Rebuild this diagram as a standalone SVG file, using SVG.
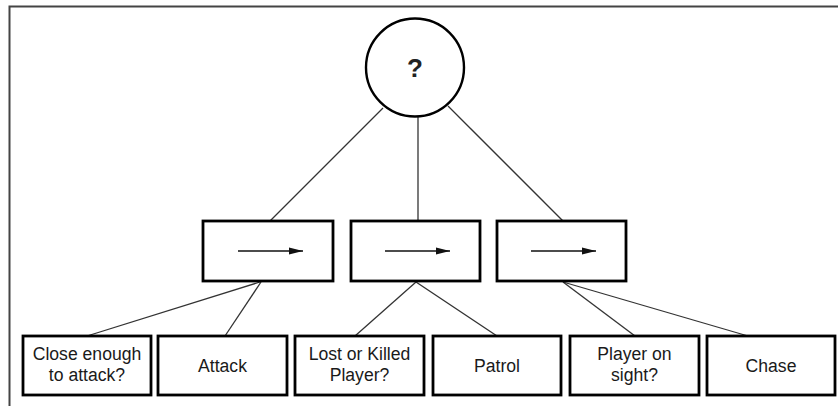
<svg xmlns="http://www.w3.org/2000/svg" width="838" height="406" viewBox="0 0 838 406">
<style>
.frame{stroke:#444;stroke-width:2;fill:none}
.box{fill:#fff;stroke:#000;stroke-width:2.8}
.conn{stroke:#333;stroke-width:1.3;fill:none}
.arr{stroke:#111;stroke-width:1.5}
.lbl{font-family:"Liberation Sans",Arial,sans-serif;font-size:17.6px;fill:#1a1a1a;text-anchor:middle}
.q{font-family:"Liberation Sans",Arial,sans-serif;font-size:26px;font-weight:bold;fill:#222;text-anchor:middle}
</style>
<defs>
<marker id="ah" markerWidth="14" markerHeight="8" refX="14" refY="4" orient="auto" markerUnits="userSpaceOnUse">
<polygon points="0,0.5 14,4 0,7.5" fill="#111"/>
</marker>
</defs>
<rect width="838" height="406" fill="#fff"/>
<path class="frame" d="M9.5,406 V6.5 H838"/>
<g id="connectors">
<line class="conn" x1="383" y1="108" x2="270" y2="221"/>
<line class="conn" x1="418" y1="117" x2="418" y2="221"/>
<line class="conn" x1="448" y1="106" x2="563" y2="221"/>
<line class="conn" x1="260" y1="282" x2="87" y2="336"/>
<line class="conn" x1="261" y1="282" x2="225" y2="336"/>
<line class="conn" x1="416" y1="282" x2="355" y2="336"/>
<line class="conn" x1="416" y1="282" x2="497" y2="336"/>
<line class="conn" x1="563" y1="282" x2="635" y2="336"/>
<line class="conn" x1="563" y1="282" x2="748" y2="336"/>
</g>
<g id="selector">
<circle cx="415" cy="67.5" r="49" fill="#fff" stroke="#000" stroke-width="2.4"/>
<text class="q" x="415" y="77">?</text>
</g>
<g id="seq1">
<rect class="box" x="203" y="221" width="130" height="60"/>
<line class="arr" x1="238" y1="251" x2="303" y2="251" marker-end="url(#ah)"/>
</g>
<g id="seq2">
<rect class="box" x="351" y="221" width="129" height="60"/>
<line class="arr" x1="385" y1="251" x2="450" y2="251" marker-end="url(#ah)"/>
</g>
<g id="seq3">
<rect class="box" x="497" y="221" width="129" height="60"/>
<line class="arr" x1="531" y1="251" x2="596" y2="251" marker-end="url(#ah)"/>
</g>
<g id="close">
<rect class="box" x="23" y="336" width="128" height="59"/>
<text class="lbl" x="87" y="360">Close enough</text>
<text class="lbl" x="87" y="381">to attack?</text>
</g>
<g id="attack">
<rect class="box" x="158" y="336" width="129" height="59"/>
<text class="lbl" x="222.5" y="372">Attack</text>
</g>
<g id="lost">
<rect class="box" x="295" y="336" width="129" height="59"/>
<text class="lbl" x="359.5" y="360">Lost or Killed</text>
<text class="lbl" x="359.5" y="381">Player?</text>
</g>
<g id="patrol">
<rect class="box" x="433" y="336" width="128" height="59"/>
<text class="lbl" x="497" y="372">Patrol</text>
</g>
<g id="sight">
<rect class="box" x="570" y="336" width="129" height="59"/>
<text class="lbl" x="634.5" y="360">Player on</text>
<text class="lbl" x="634.5" y="381">sight?</text>
</g>
<g id="chase">
<rect class="box" x="707" y="336" width="128" height="59"/>
<text class="lbl" x="771" y="372">Chase</text>
</g>
</svg>
